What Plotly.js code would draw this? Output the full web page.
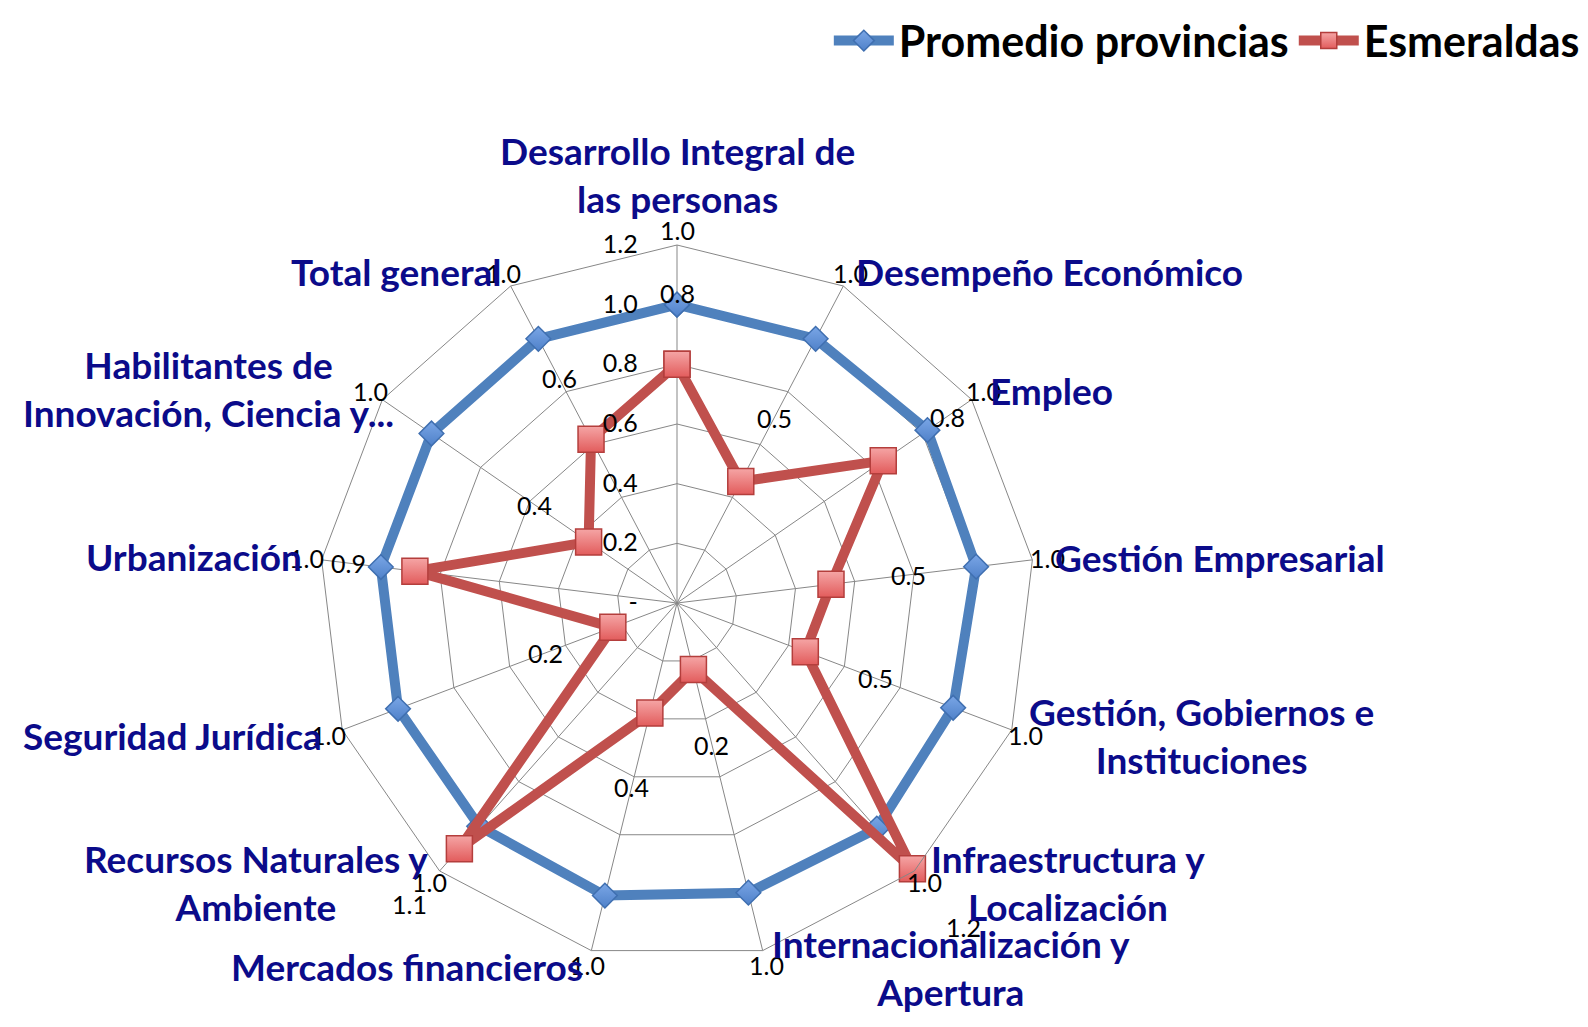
<!DOCTYPE html>
<html>
<head>
<meta charset="utf-8">
<script src="https://cdn.plot.ly/plotly-3.0.1.min.js"></script>
<style>
  html, body { margin: 0; padding: 0; background: #ffffff; }
  #chart { width: 1588px; height: 1027px; }
</style>
</head>
<body>
<div id="chart"></div>
<script>
// ---------------- DATA ----------------
const categories = [
  "Desarrollo Integral de las personas",
  "Desempeño Económico",
  "Empleo",
  "Gestión Empresarial",
  "Gestión, Gobiernos e Instituciones",
  "Infraestructura y Localización",
  "Internacionalización y Apertura",
  "Mercados financieros",
  "Recursos Naturales y Ambiente",
  "Seguridad Jurídica",
  "Urbanización",
  "Habilitantes de Innovación, Ciencia y...",
  "Total general"
];
const categoryLabels = [
  "Desarrollo Integral de<br>las personas",
  "Desempeño Económico",
  "Empleo",
  "Gestión Empresarial",
  "Gestión, Gobiernos e<br>Instituciones",
  "Infraestructura y<br>Localización",
  "Internacionalización y<br>Apertura",
  "Mercados financieros",
  "Recursos Naturales y<br>Ambiente",
  "Seguridad Jurídica",
  "Urbanización",
  "Habilitantes de<br>Innovación, Ciencia y...",
  "Total general"
];
const seriesNames = ["Promedio provincias", "Esmeraldas"];
const promedio   = [1.00, 1.00, 1.02, 1.01, 0.99, 1.01, 1.00, 1.01, 1.00, 1.00, 1.00, 1.00, 1.00];
const esmeraldas = [0.80, 0.46, 0.84, 0.52, 0.46, 1.19, 0.23, 0.38, 1.10, 0.23, 0.885, 0.36, 0.62];
const radialTickVals = [0, 0.2, 0.4, 0.6, 0.8, 1.0, 1.2];
const radialTickText = ["-", "0.2", "0.4", "0.6", "0.8", "1.0", "1.2"];

// ---------------- LAYOUT CONFIG (positions / styles) ----------------
const W = 1588, H = 1027;
const CX = 677, CY = 603, RADIUS = 358;     // polar centre and outer radius (px)
const RMAX = 1.2;
const promLabelR = 1.25;
const esmLabelR = [1.04, 0.70, 1.10, 0.78, 0.71, 1.45, 0.49, 0.635, 1.35, 0.47, 1.11, 0.58, 0.85];
// category label placement relative to each outer vertex
const catPlace = [
  {xa: "center", ya: "bottom", dx: 0,   dy: -22},
  {xa: "left",   ya: "middle", dx: 11,  dy: -15},
  {xa: "left",   ya: "middle", dx: 16,  dy: -9},
  {xa: "left",   ya: "middle", dx: 21,  dy: -2},
  {xa: "left",   ya: "middle", dx: 15,  dy: 6},
  {xa: "left",   ya: "middle", dx: 15,  dy: 12},
  {xa: "left",   ya: "middle", dx: 7,   dy: 17},
  {xa: "right",  ya: "middle", dx: -6,  dy: 16},
  {xa: "right",  ya: "middle", dx: -10, dy: 12},
  {xa: "right",  ya: "middle", dx: -18, dy: 6},
  {xa: "right",  ya: "middle", dx: -18, dy: -3},
  {xa: "right",  ya: "middle", dx: 14,  dy: -11},
  {xa: "right",  ya: "middle", dx: -8,  dy: -15}
];

const BLUE = "#4F81BD", RED = "#C0504D", GRID = "#878787", NAVY = "#0b0b8a";
const CAT_FONT = "Lato, 'Open Sans', sans-serif";
const NUM_FONT = "Lato, 'Liberation Sans', sans-serif";
const closeArr = a => a.concat([a[0]]);
const thetaClosed = closeArr(categories);

const traces = [
  {
    type: "scatterpolar", mode: "lines+markers", name: seriesNames[0],
    r: closeArr(promedio), theta: thetaClosed,
    line: {color: BLUE, width: 10},
    marker: {symbol: "diamond", size: 19, color: "#7aa6e6",
             gradient: {type: "vertical", color: "#4f81c9"},
             line: {color: "#3f6fb0", width: 1.5}},
    cliponaxis: false, hoverinfo: "name+r+theta"
  },
  {
    type: "scatterpolar", mode: "lines+markers", name: seriesNames[1],
    r: closeArr(esmeraldas), theta: thetaClosed,
    line: {color: RED, width: 10},
    marker: {symbol: "square", size: 26, color: "#f5a5a5",
             gradient: {type: "vertical", color: "#e25c5c"},
             line: {color: "#b43e3c", width: 1.5}},
    cliponaxis: false, hoverinfo: "name+r+theta"
  }
];

// helpers: pixel position of (r, category index) using the polar geometry
const n = categories.length;
function polarPx(r, i) {
  const ang = (i * 360 / n) * Math.PI / 180;     // clockwise from top
  const d = r / RMAX * RADIUS;
  return [CX + d * Math.sin(ang), CY - d * Math.cos(ang)];
}

const annotations = [];
// data labels (drawn first so category labels lie over them)
promedio.forEach((v, i) => {
  const [px, py] = polarPx(promLabelR, i);
  annotations.push({xref: "paper", yref: "paper", x: px / W, y: 1 - py / H,
    xanchor: "center", yanchor: "middle", showarrow: false, text: v.toFixed(1),
    font: {family: NUM_FONT, size: 25, color: "#000000"}});
});
esmeraldas.forEach((v, i) => {
  const [px, py] = polarPx(esmLabelR[i], i);
  annotations.push({xref: "paper", yref: "paper", x: px / W, y: 1 - py / H,
    xanchor: "center", yanchor: "middle", showarrow: false, text: v.toFixed(1),
    font: {family: NUM_FONT, size: 25, color: "#000000"}});
});
// category labels
categoryLabels.forEach((txt, i) => {
  const [vx, vy] = polarPx(RMAX, i);
  const p = catPlace[i];
  annotations.push({
    xref: "paper", yref: "paper",
    x: (vx + p.dx) / W, y: 1 - (vy + p.dy) / H,
    xanchor: p.xa, yanchor: p.ya, align: "center",
    text: "<b>" + txt + "</b>", showarrow: false,
    font: {family: CAT_FONT, size: 37, color: NAVY}
  });
});

const layout = {
  width: W, height: H,
  margin: {l: 0, r: 0, t: 0, b: 0},
  paper_bgcolor: "#ffffff",
  showlegend: true,
  legend: {
    orientation: "h", x: 0.998, xanchor: "right", y: 0.994, yanchor: "top",
    font: {family: CAT_FONT, size: 43, color: "#000000", weight: "bold"},
    bgcolor: "rgba(0,0,0,0)", itemwidth: 60, tracegroupgap: 0
  },
  polar: {
    domain: {x: [(CX - RADIUS) / W, (CX + RADIUS) / W], y: [1 - (CY + RADIUS) / H, 1 - (CY - RADIUS) / H]},
    bgcolor: "#ffffff",
    gridshape: "linear",
    radialaxis: {
      range: [0, RMAX], angle: 90, tickangle: 90, side: "counterclockwise",
      tickvals: radialTickVals, ticktext: radialTickText,
      ticks: "outside", ticklen: 30, tickcolor: "rgba(0,0,0,0)",
      showline: false, gridcolor: GRID, gridwidth: 1,
      tickfont: {family: NUM_FONT, size: 25, color: "#000000"}
    },
    angularaxis: {
      direction: "clockwise", rotation: 90,
      showticklabels: false, ticks: "",
      showline: true, linecolor: GRID, linewidth: 1,
      gridcolor: GRID, gridwidth: 1
    }
  },
  annotations: annotations
};

Plotly.newPlot("chart", traces, layout, {displayModeBar: false, staticPlot: true});
</script>
</body>
</html>
